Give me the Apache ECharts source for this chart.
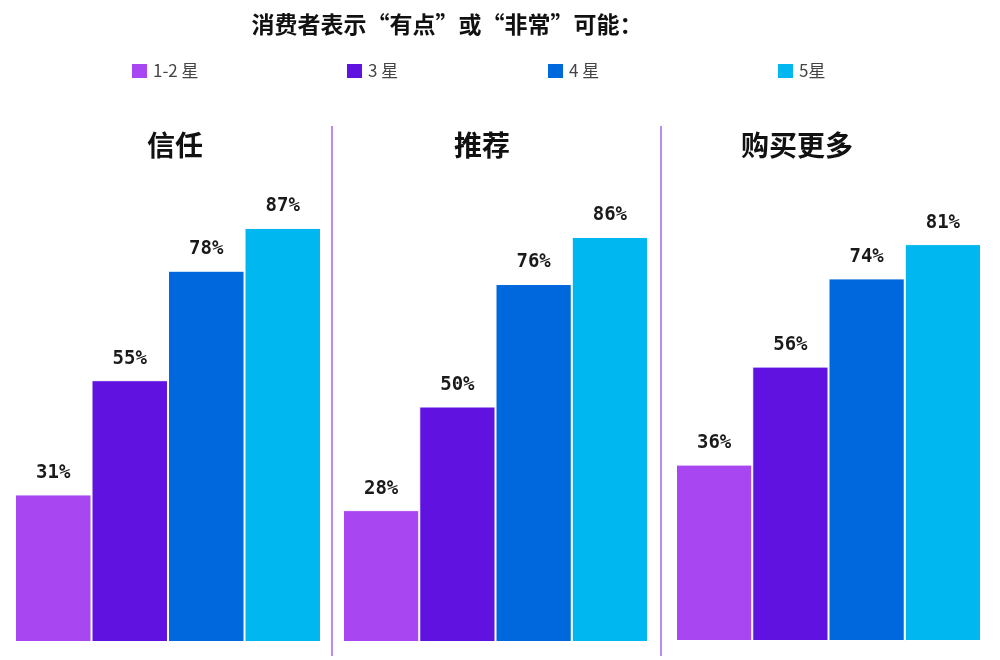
<!DOCTYPE html>
<html>
<head>
<meta charset="utf-8">
<script src="https://cdn.jsdelivr.net/npm/echarts@6/dist/echarts.min.js"></script>
<style>html,body{margin:0;padding:0;background:#fff}#c{width:1000px;height:660px}</style>
</head>
<body>
<div id="c"></div>
<script>
const panels = ['信任', '推荐', '购买更多'];
const ratingNames = ['1-2 星', '3 星', '4 星', '5星'];
const vals12 = [31, 28, 36];
const vals3 = [55, 50, 56];
const vals4 = [78, 76, 74];
const vals5 = [87, 86, 81];
const seriesVals = [vals12, vals3, vals4, vals5];
const colors = ['#A847F2', '#5F12E0', '#0068DD', '#00B7EF'];

const grids = [
  {left: 15, width: 306, top: 166, bottom: 18},
  {left: 343, width: 305, top: 171, bottom: 18},
  {left: 676, width: 305, top: 151, bottom: 19}
];
const titleCenters = [175, 482, 797];
const legendLefts = [130, 345, 546, 776];

const chart = echarts.init(document.getElementById('c'), null, {renderer: 'canvas'});
const series = [];
panels.forEach((p, i) => {
  seriesVals.forEach((arr, j) => {
    series.push({
      type: 'bar', name: ratingNames[j], xAxisIndex: i, yAxisIndex: i,
      data: [arr[i]], barGap: '0%', barCategoryGap: '0%',
      itemStyle: {color: colors[j], borderColor: '#ffffff', borderWidth: 1},
      label: {show: true, position: 'top', distance: 12, formatter: '{c}%',
        fontFamily: 'DejaVu Sans Mono', fontWeight: 'bold', fontSize: 19, color: '#1a1a1a'}
    });
  });
});

const option = {
  animation: false,
  color: colors,
  title: [
    {text: '消费者表示“有点”或“非常”可能：', left: 447, top: 13, textAlign: 'center', padding: 0,
      textStyle: {fontFamily: 'Noto Sans CJK SC', fontWeight: 'bold', fontSize: 23, color: '#111'}}
  ].concat(panels.map((p, i) => ({text: p, left: titleCenters[i], top: 131, textAlign: 'center', padding: 0,
      textStyle: {fontFamily: 'Noto Sans CJK SC', fontWeight: 'bold', fontSize: 28, color: '#111'}}))),
  legend: ratingNames.map((n, j) => ({
    data: [n], left: legendLefts[j], top: 62, itemWidth: 17, itemHeight: 16, icon: 'rect',
    selectedMode: false, itemGap: 8, padding: 0,
    textStyle: {fontFamily: 'Noto Sans CJK SC', fontSize: 17, color: '#444'}
  })),
  grid: grids,
  xAxis: grids.map((g, i) => ({type: 'category', gridIndex: i, data: [panels[i]], show: false})),
  yAxis: grids.map((g, i) => ({type: 'value', gridIndex: i, min: 0, max: 100, show: false})),
  graphic: [
    {type: 'line', shape: {x1: 332, y1: 126, x2: 332, y2: 656}, style: {stroke: '#B98CF3', lineWidth: 2}},
    {type: 'line', shape: {x1: 661, y1: 126, x2: 661, y2: 656}, style: {stroke: '#B98CF3', lineWidth: 2}}
  ],
  series: series
};
chart.setOption(option);
</script>
</body>
</html>
